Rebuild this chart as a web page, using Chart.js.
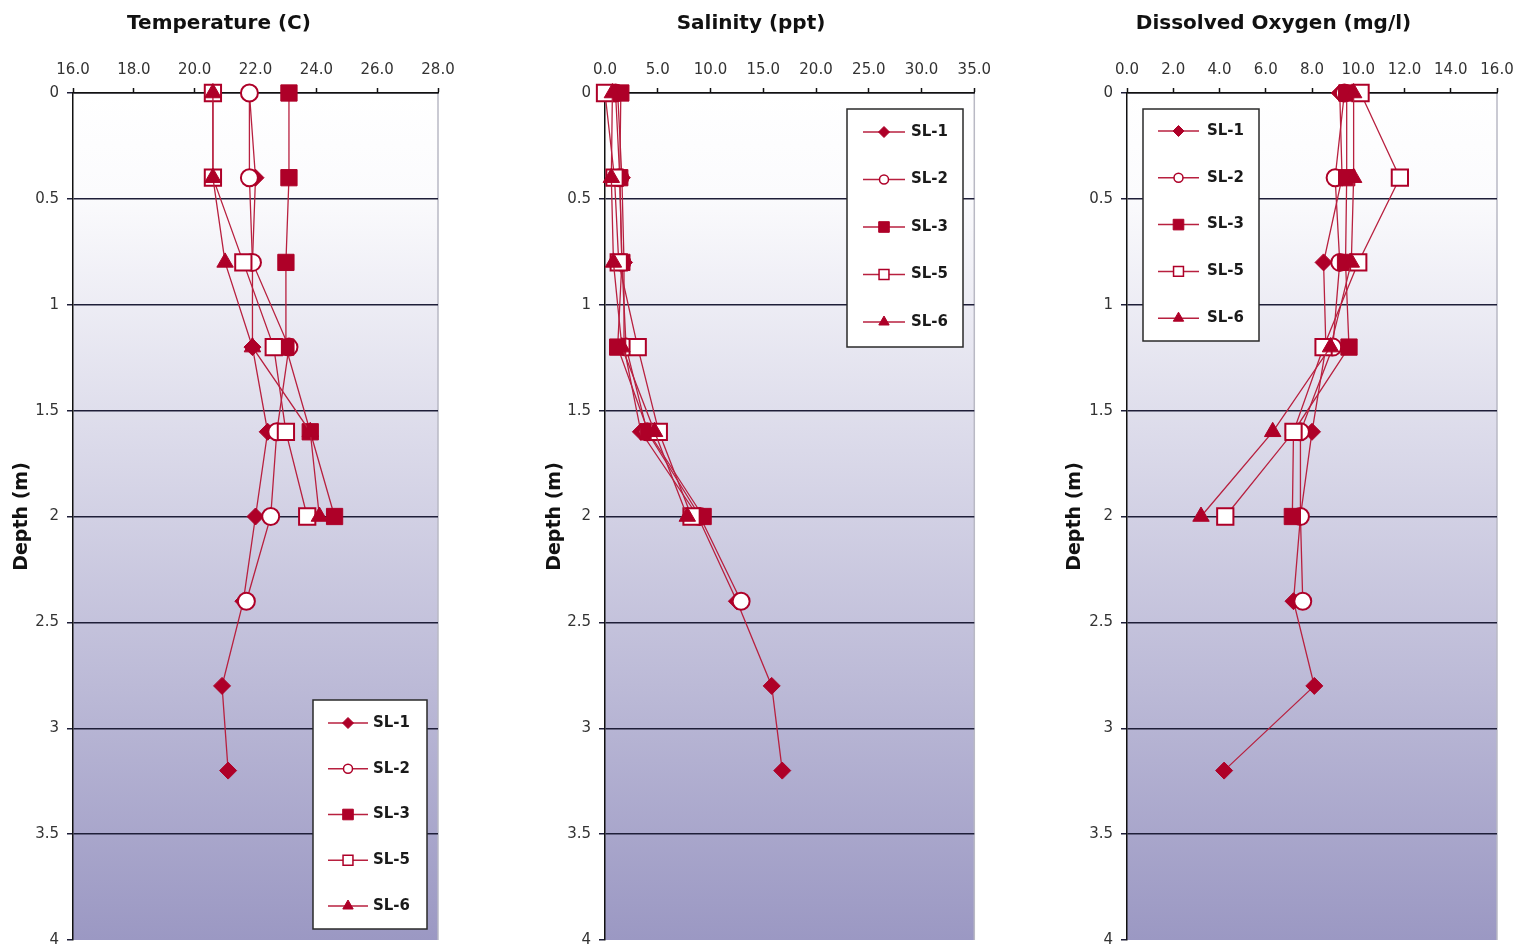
<!DOCTYPE html>
<html>
<head>
<meta charset="utf-8">
<script src="https://cdn.jsdelivr.net/npm/chart.js@4.4.1/dist/chart.umd.min.js"></script>
<style>
html,body{margin:0;padding:0;background:#fff;overflow:hidden;width:1519px;height:948px;position:relative;}
canvas{position:absolute;top:0;}
</style>
</head>
<body>
<canvas id="c1" width="504" height="948" style="left:0px"></canvas>
<canvas id="c2" width="474" height="948" style="left:526px"></canvas>
<canvas id="c3" width="596" height="948" style="left:1050px"></canvas>
<script>
// ---------------- DATA ----------------
const seriesNames = ['SL-1', 'SL-2', 'SL-3', 'SL-5', 'SL-6'];
const depths = [0, 0.4, 0.8, 1.2, 1.6, 2.0, 2.4, 2.8, 3.2];

const temperatureSL1 = [21.8, 22.0, 21.9, 21.9, 22.4, 22.0, 21.6, 20.9, 21.1];
const temperatureSL2 = [21.8, 21.8, 21.9, 23.1, 22.7, 22.5, 21.7];
const temperatureSL3 = [23.1, 23.1, 23.0, 23.0, 23.8, 24.6];
const temperatureSL5 = [20.6, 20.6, 21.6, 22.6, 23.0, 23.7];
const temperatureSL6 = [20.6, 20.6, 21.0, 21.9, 23.8, 24.1];

const salinitySL1 = [1.2, 1.6, 1.8, 1.8, 3.4, 8.8, 12.5, 15.8, 16.8];
const salinitySL2 = [1.0, 1.4, 1.6, 2.0, 4.0, 9.0, 12.9];
const salinitySL3 = [1.5, 1.4, 1.6, 1.2, 4.1, 9.3];
const salinitySL5 = [0.0, 0.9, 1.3, 3.1, 5.1, 8.2];
const salinitySL6 = [0.7, 0.6, 0.8, 1.6, 4.7, 7.8];

const oxygenSL1 = [9.2, 9.3, 8.5, 8.6, 8.0, 7.5, 7.2, 8.1, 4.2];
const oxygenSL2 = [9.4, 9.0, 9.2, 8.9, 7.5, 7.5, 7.6];
const oxygenSL3 = [9.5, 9.5, 9.45, 9.6, 7.2, 7.15];
const oxygenSL5 = [10.1, 11.8, 10.0, 8.5, 7.2, 4.25];
const oxygenSL6 = [9.8, 9.8, 9.7, 8.8, 6.3, 3.2];

const temperatureTickLabels = ['16.0', '18.0', '20.0', '22.0', '24.0', '26.0', '28.0'];
const salinityTickLabels = ['0.0', '5.0', '10.0', '15.0', '20.0', '25.0', '30.0', '35.0'];
const oxygenTickLabels = ['0.0', '2.0', '4.0', '6.0', '8.0', '10.0', '12.0', '14.0', '16.0'];
const depthTickLabels = ['0', '0.5', '1', '1.5', '2', '2.5', '3', '3.5', '4'];

const chartTitles = ['Temperature (C)', 'Salinity (ppt)', 'Dissolved Oxygen (mg/l)'];
const depthAxisTitle = 'Depth (m)';

// ---------------- STYLE ----------------
const RED = '#ae0028';
const LINE = '#b8203f';
const FONT = "'DejaVu Sans', 'Liberation Sans', Arial, sans-serif";
Chart.defaults.font.family = FONT;

const seriesStyles = [
  { pointStyle: 'rectRot', pointRadius: 8.5, open: false, legendRadius: 5.5 },
  { pointStyle: 'circle', pointRadius: 8.5, open: true, legendRadius: 4.5 },
  { pointStyle: 'rect', pointRadius: 11.5, open: false, legendRadius: 7.5 },
  { pointStyle: 'rect', pointRadius: 11.5, open: true, legendRadius: 7 },
  { pointStyle: 'triangle', pointRadius: 9.5, open: false, legendRadius: 6 }
];

function makeDatasets(valueLists) {
  return valueLists.map((vals, i) => {
    const st = seriesStyles[i];
    return {
      label: seriesNames[i],
      data: vals.map((v, k) => ({ x: v, y: depths[k] })),
      showLine: true,
      borderColor: LINE,
      borderWidth: 1.3,
      pointStyle: st.pointStyle,
      pointRadius: st.pointRadius,
      pointHoverRadius: st.pointRadius,
      pointBackgroundColor: st.open ? '#ffffff' : RED,
      pointBorderColor: RED,
      pointBorderWidth: st.open ? 2 : 1,
      legendRadius: st.legendRadius,
      order: 10 - i,
      clip: false
    };
  });
}

// background gradient + right border
const plotBackground = {
  id: 'plotBackground',
  beforeDraw(chart) {
    const { ctx, chartArea: a } = chart;
    ctx.save();
    const g = ctx.createLinearGradient(0, a.top, 0, a.bottom);
    g.addColorStop(0, '#ffffff');
    g.addColorStop(0.12, '#fbfbfd');
    g.addColorStop(1, '#9b98c3');
    ctx.fillStyle = g;
    ctx.fillRect(a.left, a.top, a.right - a.left, a.bottom - a.top);
    ctx.strokeStyle = '#b9b9c4';
    ctx.lineWidth = 1.5;
    ctx.beginPath();
    ctx.moveTo(a.right, a.top);
    ctx.lineTo(a.right, a.bottom);
    ctx.stroke();
    ctx.restore();
  }
};

function drawMarker(ctx, style, r, x, y) {
  if (Chart.helpers && Chart.helpers.drawPoint) {
    Chart.helpers.drawPoint(ctx, { pointStyle: style, radius: r, borderWidth: ctx.lineWidth, rotation: 0 }, x, y);
  } else {
    ctx.beginPath();
    ctx.arc(x, y, r, 0, Math.PI * 2);
    ctx.fill();
    ctx.stroke();
  }
}

const boxLegend = {
  id: 'boxLegend',
  afterDraw(chart, args, opts) {
    const ctx = chart.ctx;
    ctx.save();
    ctx.fillStyle = '#ffffff';
    ctx.fillRect(opts.left, opts.top, opts.width, opts.height);
    ctx.strokeStyle = '#2a2a2a';
    ctx.lineWidth = 1.5;
    ctx.strokeRect(opts.left, opts.top, opts.width, opts.height);
    chart.data.datasets.forEach((ds, i) => {
      const y = opts.top + opts.first + i * opts.gap;
      const x1 = opts.left + opts.lineStart;
      const x2 = x1 + opts.lineLen;
      ctx.strokeStyle = LINE;
      ctx.lineWidth = 1.5;
      ctx.beginPath();
      ctx.moveTo(x1, y);
      ctx.lineTo(x2, y);
      ctx.stroke();
      ctx.fillStyle = ds.pointBackgroundColor;
      ctx.strokeStyle = ds.pointBorderColor;
      ctx.lineWidth = ds.pointBorderWidth === 2 ? 1.5 : 1;
      drawMarker(ctx, ds.pointStyle, ds.legendRadius, (x1 + x2) / 2, y);
      ctx.fillStyle = '#1a1a1a';
      ctx.font = 'bold 15px ' + FONT;
      ctx.textBaseline = 'middle';
      ctx.textAlign = 'left';
      ctx.fillText(ds.label, opts.left + opts.textX, y);
    });
    ctx.restore();
  }
};

function makeChart(id, cfg) {
  const tickLabels = cfg.tickLabels;
  return new Chart(document.getElementById(id), {
    type: 'scatter',
    data: { datasets: makeDatasets(cfg.values) },
    plugins: [plotBackground, boxLegend],
    options: {
      responsive: false,
      animation: false,
      devicePixelRatio: 1,
      layout: { autoPadding: false, padding: { left: 0, right: cfg.padRight, top: 0, bottom: 8 } },
      plugins: {
        legend: { display: false },
        tooltip: { enabled: false },
        title: {
          display: true,
          text: cfg.title,
          color: '#111',
          font: { size: 20, weight: 'bold', family: FONT },
          padding: { top: 12, bottom: 8 }
        },
        boxLegend: cfg.legend
      },
      scales: {
        x: {
          type: 'linear',
          position: 'top',
          min: cfg.min,
          max: cfg.max,
          afterFit: (s) => { s.height = 49; s.paddingTop = 0; s.paddingBottom = 0; },
          ticks: {
            stepSize: cfg.step,
            color: '#333',
            font: { size: 15, family: FONT },
            padding: 9,
            maxRotation: 0,
            autoSkip: false,
            callback: (v) => tickLabels[Math.round((v - cfg.min) / cfg.step)]
          },
          grid: {
            drawOnChartArea: false,
            drawTicks: true,
            tickLength: 5,
            tickColor: '#111',
            tickWidth: 1.5
          },
          border: { display: true, color: '#111', width: 1.5 }
        },
        y: {
          type: 'linear',
          reverse: true,
          min: 0,
          max: 4,
          afterFit: (s) => { s.width = cfg.yWidth; s.paddingTop = 0; s.paddingBottom = 0; },
          ticks: {
            stepSize: 0.5,
            color: '#333',
            font: { size: 15, family: FONT },
            padding: 8,
            autoSkip: false,
            callback: (v) => depthTickLabels[Math.round(v / 0.5)]
          },
          grid: {
            color: (c) => (c.tick && c.tick.value === 4) ? 'rgba(0,0,0,0)' : '#1e1e38',
            lineWidth: 1.5,
            tickLength: 6,
            tickColor: '#1e1e38',
            tickWidth: 1.5
          },
          border: { display: true, color: '#111', width: 1.5 },
          title: {
            display: true,
            text: depthAxisTitle,
            color: '#111',
            font: { size: 19, weight: 'bold', family: FONT },
            padding: { top: cfg.yTitlePad, bottom: 0 }
          }
        }
      }
    }
  });
}

makeChart('c1', {
  title: chartTitles[0],
  values: [temperatureSL1, temperatureSL2, temperatureSL3, temperatureSL5, temperatureSL6],
  tickLabels: temperatureTickLabels,
  min: 16, max: 28, step: 2,
  yWidth: 73, padRight: 66, yTitlePad: 11,
  legend: { left: 313, top: 700, width: 114, height: 229, first: 23, gap: 45.75, lineStart: 15, lineLen: 40, textX: 60 }
});

makeChart('c2', {
  title: chartTitles[1],
  values: [salinitySL1, salinitySL2, salinitySL3, salinitySL5, salinitySL6],
  tickLabels: salinityTickLabels,
  min: 0, max: 35, step: 5,
  yWidth: 79, padRight: 24, yTitlePad: 18,
  legend: { left: 321, top: 109, width: 116, height: 238, first: 23, gap: 47.5, lineStart: 16, lineLen: 42, textX: 64 }
});

makeChart('c3', {
  title: chartTitles[2],
  values: [oxygenSL1, oxygenSL2, oxygenSL3, oxygenSL5, oxygenSL6],
  tickLabels: oxygenTickLabels,
  min: 0, max: 16, step: 2,
  yWidth: 77, padRight: 149, yTitlePad: 14,
  legend: { left: 93, top: 109, width: 116, height: 232, first: 22, gap: 46.8, lineStart: 15, lineLen: 41, textX: 64 }
});
</script>
</body>
</html>
